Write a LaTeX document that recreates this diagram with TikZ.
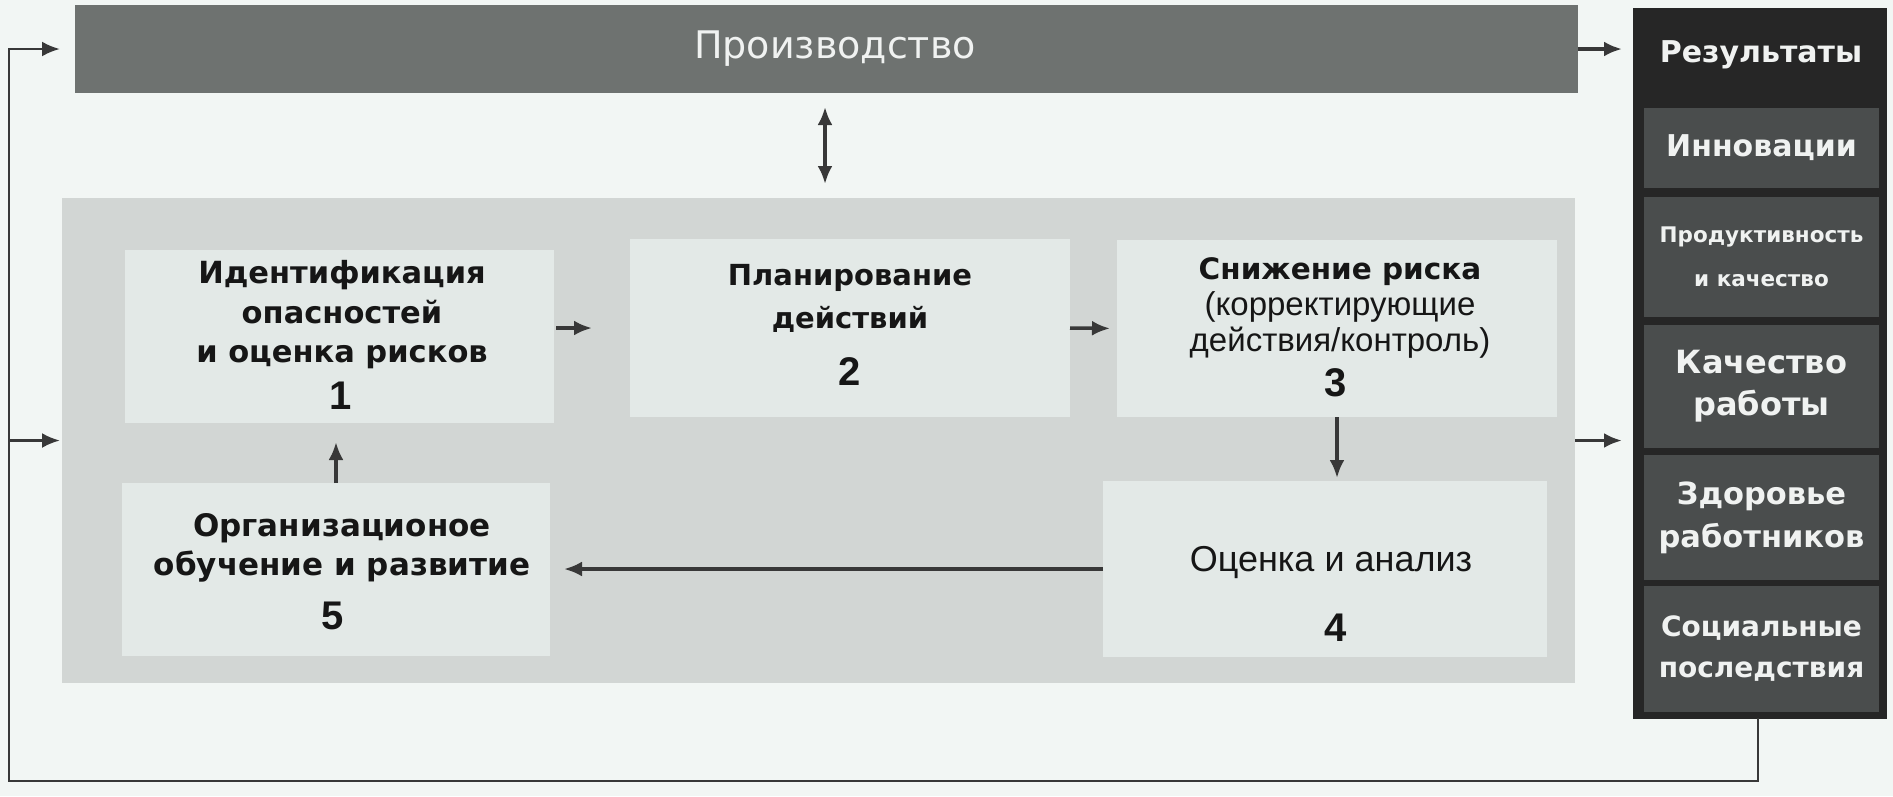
\documentclass[tikz,border=0pt]{standalone}
\usepackage{fontspec}
\setmainfont{DejaVu Sans}
\newfontfamily\arialf{Liberation Sans}
\usetikzlibrary{arrows.meta}
\definecolor{bgc}{HTML}{F2F6F4}
\definecolor{prodc}{HTML}{6E7270}
\definecolor{panelc}{HTML}{D2D6D4}
\definecolor{boxc}{HTML}{E3E9E7}
\definecolor{resc}{HTML}{262626}
\definecolor{subc}{HTML}{4A4D4D}
\definecolor{arrc}{HTML}{383838}
\definecolor{txtc}{HTML}{161616}
\definecolor{wtxt}{HTML}{F0F2F1}
\begin{document}
\begin{tikzpicture}[x=1pt,y=-1pt,
  flat/.style={inner sep=0pt, outer sep=0pt, draw=none},
  prodbar/.style={flat, fill=prodc},
  panelbox/.style={flat, fill=panelc},
  stepbox/.style={flat, fill=boxc},
  txt/.style={text=txtc, align=center, inner sep=0pt},
  num/.style={text=txtc, inner sep=0pt, font=\arialf\bfseries\fontsize{40}{44}\selectfont},
  rescol/.style={inner sep=0pt, outer sep=0pt, fill=resc, draw=black!85, line width=1.5pt},
  resbox/.style={flat, fill=subc, minimum width=235pt, text=wtxt, align=center},
  arr/.style={draw=arrc, line width=3.5pt, -{Latex[length=18pt,width=15pt]}},
  dblarr/.style={draw=arrc, line width=3.5pt, {Latex[length=18pt,width=15pt]}-{Latex[length=18pt,width=15pt]}},
]
% background / page size
\fill[bgc] (0,0) rectangle (1893,796);
\useasboundingbox (0,0) rectangle (1893,796);

% production bar
\node[prodbar, minimum width=1503pt, minimum height=88pt] (prod) at (826.5,49) {};
\node[text=wtxt, inner sep=0pt, font=\fontsize{38}{44}\selectfont] (prodt) at (835,49) {Производство};

% grey panel
\node[panelbox, minimum width=1513pt, minimum height=485pt] (panel) at (818.5,440.5) {};

% step boxes
\node[stepbox, minimum width=429pt, minimum height=173pt] (b1) at (339.5,336.5) {};
\node[stepbox, minimum width=440pt, minimum height=178pt] (b2) at (850,328) {};
\node[stepbox, minimum width=440pt, minimum height=177pt] (b3) at (1337,328.5) {};
\node[stepbox, minimum width=444pt, minimum height=176pt] (b4) at (1325,569) {};
\node[stepbox, minimum width=428pt, minimum height=173pt] (b5) at (336,569.5) {};

% texts of the steps
\node[txt, font=\bfseries\fontsize{30.5}{39.5}\selectfont] (t1) at (342,315) {Идентификация\\опасностей\\и оценка рисков};
\node[num] (n1) at (341,396) {1};
\node[txt, font=\bfseries\fontsize{29}{43}\selectfont] (t2) at (850,298.5) {Планирование\\действий};
\node[num] (n2) at (850,372) {2};
\node[txt, font=\arialf\fontsize{33}{36}\selectfont] (t3) at (1340,308) {{\setmainfont{DejaVu Sans}\normalfont\bfseries\fontsize{29.5}{36}\selectfont Снижение риска}\\(корректирующие\\действия/контроль)};
\node[num] (n3) at (1336,383) {3};
\node[txt, font=\arialf\fontsize{36}{40}\selectfont] (t4) at (1331,563) {Оценка и анализ};
\node[num] (n4) at (1336,628) {4};
\node[txt, font=\bfseries\fontsize{31}{39}\selectfont] (t5) at (342,548) {Организационое\\обучение и развитие};
\node[num] (n5) at (333,616) {5};

% results column
\node[rescol, minimum width=252pt, minimum height=709pt] (res) at (1760,363.5) {};
\node[text=wtxt, inner sep=0pt, font=\bfseries\fontsize{30}{36}\selectfont] (rh) at (1761,55) {Результаты};
\node[resbox, minimum height=80pt, font=\bfseries\fontsize{30}{36}\selectfont] (r1) at (1761.5,148) {Инновации};
\node[resbox, minimum height=120pt, font=\bfseries\fontsize{21.5}{44}\selectfont] (r2) at (1761.5,257) {Продуктивность\\и качество};
\node[resbox, minimum height=123pt, font=\bfseries\fontsize{32}{42}\selectfont] (r3) at (1761.5,386.5) {Качество\\работы};
\node[resbox, minimum height=125pt, font=\bfseries\fontsize{30.5}{43}\selectfont] (r4) at (1761.5,517.5) {Здоровье\\работников};
\node[resbox, minimum height=126pt, font=\bfseries\fontsize{28}{41}\selectfont] (r5) at (1761.5,649) {Социальные\\последствия};

% connectors inside the panel
\draw[arr, shorten <=2pt, shorten >=38pt] (b1.east |- b2.west) -- (b2.west);
\draw[arr, shorten >=7pt] (b2.east) -- (b3.west);
\draw[arr, shorten >=3pt] (b3.south) -- (b3.south |- b4.north);
\draw[arr, shorten >=14pt] (b4.west) -- (b4.west -| b5.east);
\draw[arr, shorten >=19pt] (b5.north) -- (b5.north |- b1.south);

% production <-> panel
\coordinate (dx) at (825,0);
\draw[dblarr, shorten <=14pt, shorten >=14pt] (prod.south -| dx) -- (panel.north -| dx);

% to results
\draw[arr, shorten >=12pt] (prod.east) -- (prod.east -| res.west);
\draw[arr, shorten >=12pt] (panel.east) -- (panel.east -| res.west);

% feedback loop
\coordinate (lb) at (1758,781);
\coordinate (ll) at (9,781);
\draw[arr, line width=2.8pt, shorten >=15pt] (res.south -| lb) -- (lb) -- (ll) |- (prod.west);
\draw[arr, line width=2.8pt, shorten >=2pt] (ll |- panel.west) -- (panel.west);
\end{tikzpicture}
\end{document}
